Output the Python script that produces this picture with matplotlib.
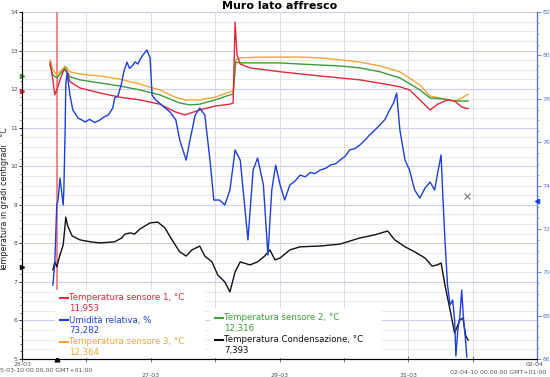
import matplotlib
matplotlib.use("Agg")
import matplotlib.pyplot as plt
from matplotlib.patches import Rectangle
from matplotlib.lines import Line2D
import numpy as np

# ---- data (time in days from 25-03-10 00:00) ----
red_t = [0.435, 0.48, 0.51, 0.54, 0.59, 0.65, 0.70, 0.745, 0.90, 1.21, 1.52, 1.83, 2.14, 2.38, 2.53, 2.76, 3.00, 3.23, 3.28, 3.31, 3.34, 3.39, 3.54, 4.01, 4.63, 5.25, 5.71, 5.87, 6.02, 6.10, 6.34, 6.46, 6.61, 6.72, 6.83, 6.93]
red_v = [12.70, 12.24, 11.85, 11.98, 12.24, 12.50, 12.45, 12.19, 12.03, 11.90, 11.79, 11.72, 11.61, 11.41, 11.33, 11.46, 11.56, 11.61, 11.64, 13.74, 12.89, 12.65, 12.55, 12.45, 12.34, 12.24, 12.11, 12.06, 11.98, 11.85, 11.46, 11.61, 11.72, 11.69, 11.54, 11.49]

green_t = [0.435, 0.48, 0.54, 0.62, 0.67, 0.745, 0.90, 1.21, 1.52, 1.83, 2.14, 2.45, 2.61, 2.76, 3.00, 3.23, 3.28, 3.32, 3.39, 3.70, 4.01, 4.32, 4.94, 5.25, 5.56, 5.87, 6.18, 6.34, 6.57, 6.72, 6.93]
green_v = [12.63, 12.37, 12.29, 12.45, 12.55, 12.32, 12.24, 12.16, 12.08, 11.98, 11.85, 11.64, 11.59, 11.61, 11.72, 11.85, 11.87, 12.70, 12.68, 12.68, 12.68, 12.65, 12.60, 12.55, 12.45, 12.29, 11.98, 11.77, 11.74, 11.69, 11.69]

orange_t = [0.435, 0.48, 0.54, 0.62, 0.67, 0.745, 0.90, 1.21, 1.52, 1.83, 2.14, 2.38, 2.53, 2.76, 3.00, 3.23, 3.28, 3.32, 3.39, 3.70, 4.32, 4.63, 4.94, 5.25, 5.56, 5.87, 6.18, 6.34, 6.57, 6.72, 6.83, 6.93]
orange_v = [12.76, 12.50, 12.37, 12.50, 12.60, 12.45, 12.39, 12.34, 12.26, 12.13, 11.98, 11.79, 11.72, 11.72, 11.79, 11.93, 11.95, 12.76, 12.81, 12.83, 12.83, 12.81, 12.76, 12.70, 12.60, 12.45, 12.11, 11.82, 11.74, 11.69, 11.77, 11.87]

black_t = [0.48, 0.51, 0.54, 0.59, 0.64, 0.67, 0.68, 0.71, 0.78, 0.90, 1.06, 1.21, 1.44, 1.55, 1.60, 1.68, 1.75, 1.83, 1.99, 2.11, 2.22, 2.33, 2.45, 2.55, 2.64, 2.76, 2.84, 2.95, 3.04, 3.15, 3.23, 3.31, 3.39, 3.54, 3.66, 3.77, 3.85, 3.93, 4.01, 4.16, 4.32, 4.63, 4.94, 5.25, 5.48, 5.68, 5.79, 5.95, 6.10, 6.26, 6.37, 6.45, 6.51, 6.57, 6.65, 6.72, 6.80, 6.85, 6.89, 6.93]
black_v = [7.31, 7.52, 7.39, 7.70, 7.96, 8.48, 8.68, 8.45, 8.19, 8.09, 8.04, 8.01, 8.04, 8.14, 8.24, 8.27, 8.24, 8.37, 8.53, 8.55, 8.40, 8.09, 7.78, 7.67, 7.83, 7.93, 7.67, 7.52, 7.18, 7.00, 6.74, 7.26, 7.52, 7.44, 7.52, 7.67, 7.83, 7.57, 7.62, 7.83, 7.91, 7.93, 7.98, 8.14, 8.22, 8.32, 8.09, 7.91, 7.78, 7.62, 7.41, 7.44, 7.49, 6.92, 6.27, 5.67, 6.01, 6.06, 5.62, 5.49]

blue_t = [0.48, 0.51, 0.54, 0.56, 0.59, 0.64, 0.65, 0.67, 0.68, 0.70, 0.745, 0.79, 0.87, 0.93, 0.98, 1.05, 1.13, 1.21, 1.27, 1.34, 1.41, 1.44, 1.49, 1.54, 1.58, 1.63, 1.67, 1.71, 1.76, 1.80, 1.84, 1.88, 1.94, 1.99, 2.02, 2.08, 2.17, 2.30, 2.39, 2.45, 2.55, 2.61, 2.69, 2.76, 2.84, 2.92, 2.98, 3.07, 3.15, 3.23, 3.31, 3.39, 3.51, 3.59, 3.66, 3.75, 3.82, 3.88, 3.94, 4.01, 4.08, 4.16, 4.24, 4.32, 4.40, 4.48, 4.55, 4.63, 4.72, 4.80, 4.87, 4.94, 5.02, 5.09, 5.17, 5.25, 5.33, 5.40, 5.48, 5.56, 5.64, 5.71, 5.77, 5.82, 5.87, 5.95, 6.02, 6.10, 6.18, 6.26, 6.34, 6.41, 6.46, 6.51, 6.54, 6.57, 6.61, 6.65, 6.69, 6.72, 6.74, 6.77, 6.80, 6.83, 6.86, 6.89, 6.91]
blue_v = [69.41, 70.47, 73.10, 73.33, 74.34, 73.10, 73.79, 76.56, 78.63, 79.19, 78.17, 77.48, 77.11, 77.02, 76.93, 77.05, 76.90, 77.02, 77.15, 77.25, 77.57, 78.04, 78.13, 78.63, 79.23, 79.69, 79.40, 79.51, 79.70, 79.60, 79.85, 80.02, 80.25, 79.88, 78.17, 77.94, 77.71, 77.39, 77.02, 76.10, 75.17, 76.10, 77.25, 77.57, 77.25, 75.17, 73.33, 73.33, 73.10, 73.79, 75.64, 75.17, 71.49, 74.71, 75.27, 74.02, 70.79, 73.79, 74.94, 74.02, 73.33, 74.02, 74.20, 74.48, 74.40, 74.60, 74.55, 74.71, 74.80, 74.95, 75.00, 75.17, 75.35, 75.64, 75.70, 75.87, 76.10, 76.33, 76.55, 76.79, 77.05, 77.48, 77.80, 78.26, 76.56, 75.17, 74.71, 73.79, 73.42, 73.88, 74.16, 73.79, 74.62, 75.41, 73.33, 71.49, 69.41, 68.49, 68.72, 67.80, 66.14, 67.34, 67.89, 69.18, 67.80, 66.88, 66.09]

cursor_t = 0.54
marker_x_t, marker_x_v = 6.91, 73.51
legend_labels = ["Temperatura sensore 1, °C", "Umidità relativa, %", "Temperatura sensore 3, °C",
                 "Temperatura sensore 2, °C", "Temperatura Condensazione, °C"]
legend_values = ["11,953", "73,282", "12,364", "12,316", "7,393"]
day_ticks = [2, 4, 6]
day_labels = ["27-03", "29-03", "31-03"]

C_RED = "#e3283a"
C_BLUE = "#1c3fe0"
C_ORANGE = "#f4a534"
C_GREEN = "#3a9e3a"
C_BLACK = "#111111"
C_AX = "#5577dd"

W, H = 550, 377
fig = plt.figure(figsize=(5.5, 3.77), dpi=100)
L, R, T, B = 22, 537, 12, 359
ax = fig.add_axes([L / W, 1 - B / H, (R - L) / W, (B - T) / H])
ax2 = ax.twinx()

ax.set_xlim(0, 8)
ax.set_ylim(5, 14)
ax2.set_ylim(66, 82)

# grid
for v in np.arange(5, 14.01, 0.25):
    major = abs(v - round(v)) < 1e-6
    ax.axhline(v, color="#c9cfee" if major else "#e2e5f5", lw=0.8 if major else 0.6, zorder=0)
for d in range(1, 8):
    ax.axvline(d, color="#dddddd", lw=0.7, zorder=0)

# cursor line
ax.axvline(cursor_t, color="#ec8a8a", lw=1.4, zorder=1)

ax.plot(orange_t, orange_v, color=C_ORANGE, lw=1.0, zorder=3)
ax.plot(green_t, green_v, color=C_GREEN, lw=1.0, zorder=3)
ax.plot(red_t, red_v, color=C_RED, lw=1.0, zorder=3)
ax.plot(black_t, black_v, color=C_BLACK, lw=1.0, zorder=3)
ax2.plot(blue_t, blue_v, color=C_BLUE, lw=1.0, zorder=3)
ax2.plot([marker_x_t], [marker_x_v], marker="x", color="#777777", ms=4, mew=0.8, ls="none")

# axes styling
ax.set_xticks(range(0, 9))
ax.set_xticklabels([""] * 9)
for d, lab in zip(day_ticks, day_labels):
    ax.text(d, -0.04, lab, transform=ax.get_xaxis_transform(), ha="center", va="top", fontsize=4.5, color="#555555")
ax.tick_params(axis="x", direction="inout", length=4, width=0.6, color="#666666")
ax.set_yticks(range(5, 15))
ax.set_yticks(np.arange(5, 14.01, 0.2), minor=True)
ax.tick_params(axis="y", which="major", direction="out", length=2.5, width=0.6, labelsize=4.3, labelcolor="#444444", pad=0.5)
ax.tick_params(axis="y", which="minor", direction="out", length=1.5, width=0.4)
ax2.set_yticks(range(66, 83, 2))
ax2.set_yticks(np.arange(66, 82.01, 0.5), minor=True)
ax2.tick_params(axis="y", which="major", direction="out", length=3, width=0.6, colors=C_AX, labelsize=4.5, pad=1)
ax2.tick_params(axis="y", which="minor", direction="out", length=1.5, width=0.4, colors=C_AX)
for sp in ["top"]:
    ax.spines[sp].set_visible(False)
    ax2.spines[sp].set_visible(False)
ax2.spines["right"].set_color(C_AX)
ax.spines["left"].set_color("#555555")
ax.spines["bottom"].set_color("#555555")
ax.spines["left"].set_linewidth(0.8)
ax.spines["bottom"].set_linewidth(0.8)

# axis value markers
ax.plot([0], [7.393], marker=">", color=C_BLACK, ms=3, clip_on=False, transform=ax.get_yaxis_transform(), zorder=5)
ax.plot([0], [11.953], marker=">", color=C_RED, ms=3, clip_on=False, transform=ax.get_yaxis_transform(), zorder=5)
ax.plot([0], [12.34], marker=">", color=C_GREEN, ms=3, clip_on=False, transform=ax.get_yaxis_transform(), zorder=5)
ax2.plot([1], [73.282], marker="<", color=C_BLUE, ms=3, clip_on=False, transform=ax2.get_yaxis_transform(), zorder=5)
ax.plot([cursor_t], [0], marker="^", color=C_BLACK, ms=3.5, clip_on=False, transform=ax.get_xaxis_transform(), zorder=5)

fig.text(0.5 * (L + R) / W, 1 - 6 / H, "Muro lato affresco", ha="center", va="center", fontsize=8, fontweight="bold")
fig.text(5.0 / W, 1 - 200 / H, "Temperatura in gradi centigradi   °C", rotation=90, ha="center", va="center", fontsize=5.8, color="#222222")

fig.text(-4 / W, 1 - 371 / H, "25-03-10 00.00.00 GMT+01:00", ha="left", va="center", fontsize=4.5, color="#555555")
fig.text(22 / W, 1 - 364 / H, "25-03", ha="center", va="center", fontsize=4.5, color="#555555")
fig.text(535 / W, 1 - 365 / H, "02-04", ha="center", va="center", fontsize=4.5, color="#555555")
fig.text(546 / W, 1 - 372 / H, "02-04-10 00.00.00 GMT+01:00", ha="right", va="center", fontsize=4.5, color="#555555")

# legend boxes
def px(x, y):
    return (x / W, 1 - y / H)

fig.add_artist(Rectangle(px(55, 358), 150 / W, 68 / H, transform=fig.transFigure, facecolor="white", edgecolor="none", zorder=10))
fig.add_artist(Rectangle(px(210, 358), 172 / W, 50 / H, transform=fig.transFigure, facecolor="white", edgecolor="none", zorder=10))

entries = [
    (60, 298, legend_labels[0], legend_values[0], C_RED),
    (60, 320, legend_labels[1], legend_values[1], C_BLUE),
    (60, 342, legend_labels[2], legend_values[2], C_ORANGE),
    (215, 318, legend_labels[3], legend_values[3], C_GREEN),
    (215, 340, legend_labels[4], legend_values[4], C_BLACK),
]
for x0, y0, lab, val, col in entries:
    fig.add_artist(Line2D([x0 / W, (x0 + 8) / W], [1 - y0 / H] * 2, transform=fig.transFigure, color=col, lw=1.5, zorder=11))
    fig.text((x0 + 9) / W, 1 - y0 / H, lab, ha="left", va="center", fontsize=6.2, color=col, zorder=12)
    fig.text((x0 + 9) / W, 1 - (y0 + 11) / H, val, ha="left", va="center", fontsize=6.2, color=col, zorder=12)

fig.savefig("out.png", dpi=100)
